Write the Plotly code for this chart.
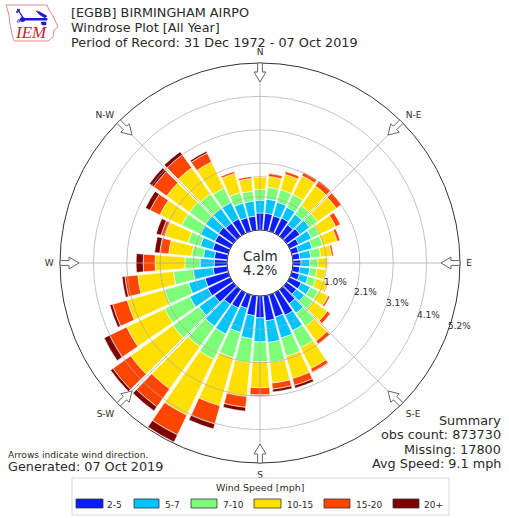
import math
import plotly.graph_objects as go

W, H = 509, 518
CX, CY, RO = 260, 263, 200

directions = [10 * i for i in range(1, 37)]
speed_bins = ["2-5", "5-7", "7-10", "10-15", "15-20", "20+"]
colors = ["#0a1ef5", "#00c4ff", "#7dff7a", "#ffe000", "#ff4500", "#7f0000"]

s2_5 = [.53,.50,.53,.44,.50,.31,.22,.22,.25,.22,.25,.40,.37,.53,.78,.72,.78,.68,
        .62,.44,.53,.56,.72,.78,.75,.44,.40,.40,.50,.53,.56,.50,.50,.44,.44,.53]
s5_7 = [.44,.44,.37,.40,.37,.44,.44,.34,.28,.31,.28,.31,.31,.37,.53,.68,.68,.75,
        .72,.78,.90,.84,.59,.62,.53,.62,.44,.34,.40,.50,.50,.56,.56,.47,.47,.40]
s7_10 = [.37,.40,.44,.34,.31,.28,.34,.31,.25,.22,.25,.28,.34,.50,.59,.59,.62,.62,
         .75,.81,.87,.78,1.0,.87,.78,.62,.47,.37,.40,.65,.62,.56,.50,.34,.31,.34]
s10_15 = [.34,.50,.65,.75,.72,.56,.47,.34,.31,.28,.37,.34,.53,.56,.72,.72,.65,.81,
          1.06,1.56,1.93,1.62,1.62,1.31,1.21,1.12,.93,.72,.75,.75,.87,1.0,.90,.62,.40,.37]
s15_20 = [.09,.09,.12,.19,.19,.16,.09,.06,.01,.01,.03,.06,.12,.12,.12,.22,.19,.22,
          .34,.59,.68,.68,.68,.59,.47,.40,.37,.28,.12,.34,.50,.50,.31,.06,.06,.03]
s20_up = [0,0,0,0,0,0,0,0,0,0,0,0,0,0,.02,.09,.09,.03,
          .12,.16,.25,.16,.09,.19,.09,.09,.22,.16,.16,.16,.16,.12,.06,0,0,0]
series = [s2_5, s5_7, s7_10, s10_15, s15_20, s20_up]

ring_values = [1.04, 2.08, 3.12, 4.16, 5.2]
ring_labels = ["1.0%", "2.1%", "3.1%", "4.1%", "5.2%"]
compass_angles = [0, 45, 90, 135, 180, 225, 270, 315]
compass_labels = ["N", "N-E", "E", "S-E", "S", "S-W", "W", "N-W"]
title_lines = ["[EGBB] BIRMINGHAM AIRPO", "Windrose Plot [All Year]",
               "Period of Record: 31 Dec 1972 - 07 Oct 2019"]
summary_lines = ["Summary", "obs count: 873730", "Missing: 17800", "Avg Speed: 9.1 mph"]

FONT = "DejaVu Sans"
TXT = "#2a2a2a"


def px(x):
    return x / W


def py(y):
    return 1 - y / H


def pt(x, y):
    return f"{px(x):.5f} {py(y):.5f}"


def poly(points):
    return "M" + " L".join(pt(x, y) for x, y in points) + " Z"


def text(x, y, s, size, anchor="left", color=TXT, family=FONT):
    return dict(x=px(x), y=py(y), xref="paper", yref="paper", text=s, showarrow=False,
                xanchor=anchor, yanchor="middle", borderpad=0, borderwidth=0,
                font=dict(family=family, size=size, color=color))


def pshape(points, fill, line, lw=1):
    return dict(type="path", path=poly(points), xref="paper", yref="paper",
                fillcolor=fill, line=dict(color=line, width=lw))


fig = go.Figure()
for name, vals, col in zip(speed_bins, series, colors):
    fig.add_trace(go.Barpolar(r=vals, theta=directions, width=8.7, name=name, subplot="polar",
                              marker=dict(color=col, line=dict(color="white", width=0.6)),
                              showlegend=False))
fig.add_trace(go.Scatterpolar(r=[ring_values[0]], theta=[0], mode="markers", subplot="polar2",
                              marker=dict(opacity=0), showlegend=False, hoverinfo="skip"))

dom = dict(x=[px(CX - RO), px(CX + RO)], y=[py(CY + RO), py(CY - RO)])
fig.update_layout(
    width=W, height=H, margin=dict(l=0, r=0, t=0, b=0), paper_bgcolor="white",
    font=dict(family=FONT, color=TXT),
    polar=dict(domain=dom, hole=0.165, bgcolor="white",
               radialaxis=dict(range=[0, 5.2], visible=False),
               angularaxis=dict(rotation=90, direction="clockwise", visible=False)),
    polar2=dict(domain=dom, hole=0.165, bgcolor="rgba(0,0,0,0)",
                radialaxis=dict(range=[0, 5.2], tickvals=ring_values, showticklabels=False,
                                ticks="", showline=False, angle=90,
                                gridcolor="rgba(170,170,170,0.7)", gridwidth=1),
                angularaxis=dict(rotation=90, direction="clockwise", tickvals=compass_angles,
                                 ticktext=compass_labels, ticks="outside", ticklen=4,
                                 tickcolor="rgba(0,0,0,0)",
                                 tickfont=dict(size=9, family=FONT, color=TXT),
                                 gridcolor="rgba(170,170,180,0.75)", gridwidth=1.2,
                                 linecolor="#333333", linewidth=1)),
)

shapes, ann = [], []

# direction arrows
for b in compass_angles:
    t = math.radians(b)
    ux, uy = math.sin(t), -math.cos(t)
    nx, ny = -uy, ux

    def P(r, o):
        return (CX + ux * r + nx * o, CY + uy * r + ny * o)
    shapes.append(pshape([P(200, -2.4), P(191, -2.4), P(191, -6), P(181, 0),
                          P(191, 6), P(191, 2.4), P(200, 2.4)], "white", "#666666", 1))

# ring labels
for s, x, y in zip(ring_labels, [323.5, 354, 386, 417, 448], [282, 292, 303, 315, 326]):
    ann.append(text(x, y, s, 9))

# centre
ann.append(text(CX, 256, "Calm", 13.5, "center"))
ann.append(text(CX, 270, "4.2%", 13.5, "center"))

# titles
for s, y in zip(title_lines, [13, 27.5, 42]):
    ann.append(text(71, y, s, 12.8))
for s, y in zip(summary_lines, [420, 434.5, 449, 463]):
    ann.append(text(501, y, s, 12.8, "right"))
ann.append(text(8, 455, "Arrows indicate wind direction.", 9.1))
ann.append(text(8, 466, "Generated: 07 Oct 2019", 12.8))

# legend
shapes.append(dict(type="rect", xref="paper", yref="paper", x0=px(72), x1=px(449),
                   y0=py(515), y1=py(478), fillcolor="white", line=dict(color="#d8d8d8", width=1)))
ann.append(text(260, 487.5, "Wind Speed [mph]", 9.5, "center"))
for name, col, x0, x1, xt in zip(speed_bins, colors, [76, 134, 191, 254, 324, 393],
                                 [103, 159, 217, 281, 350, 419],
                                 [107, 165, 223, 287, 356, 424]):
    shapes.append(dict(type="rect", xref="paper", yref="paper", x0=px(x0), x1=px(x1),
                       y0=py(508), y1=py(499), fillcolor=col, line=dict(color="#333333", width=0.8)))
    ann.append(text(xt, 504.5, name, 9))

# IEM logo
iowa = [(6, 5), (47, 5), (49, 10), (53, 16), (58, 27), (54, 30), (53, 37), (48, 41),
        (14, 41), (12, 34), (10, 24), (9, 15)]
shapes.append(pshape(iowa, "white", "#e58a8a", 1))
blue = "#1a1ad0"
shapes.append(pshape([(21, 18.5), (47, 18.5), (47, 20), (21, 20)], blue, blue, 1))
shapes.append(dict(type="circle", xref="paper", yref="paper", x0=px(20), x1=px(25),
                   y0=py(22), y1=py(17), fillcolor=blue, line=dict(color=blue, width=0)))
shapes.append(pshape([(36, 11), (40, 12), (47, 16), (45, 18), (40, 15)], blue, blue, 0.5))
shapes.append(pshape([(17, 9), (18, 9), (23, 17), (22, 17)], blue, blue, 0.5))
shapes.append(pshape([(16, 12), (19, 9), (20, 10), (17, 13)], blue, blue, 0.5))
shapes.append(pshape([(41, 22), (46, 22), (46, 25), (42, 25)], blue, blue, 0.5))
shapes.append(pshape([(17, 22), (19, 19), (20, 22)], "white", blue, 0.7))
ann.append(text(15, 33, "<i>IEM</i>", 17, "left", "#c8202a", "Liberation Serif"))

fig.update_layout(shapes=shapes, annotations=ann)
fig.write_html("out.html", config={"displayModeBar": False},
               post_script="document.body.style.margin='0';")
